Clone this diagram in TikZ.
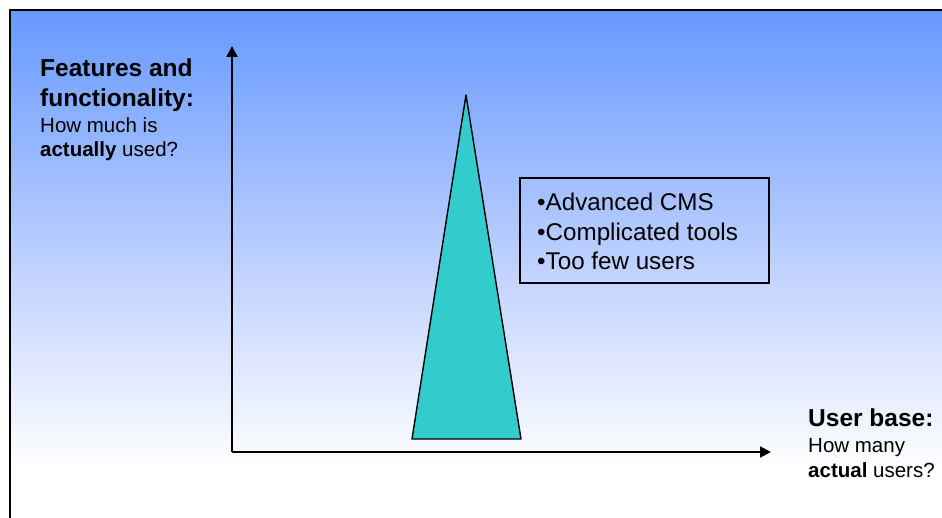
\documentclass[tikz,border=0pt]{standalone}
\usepackage{fontspec}
\setmainfont{Liberation Sans}
\usetikzlibrary{arrows.meta}
\definecolor{topblue}{RGB}{102,153,255}
\definecolor{midblue}{RGB}{196,212,255}
\definecolor{teal}{RGB}{51,204,204}
\tikzset{
  axis/.style={line width=2pt, -{Triangle[length=11pt,width=11pt]}},
  outline/.style={line width=1.4pt, line join=round},
  heading/.style={anchor=base west, inner sep=0pt, font=\bfseries\fontsize{24.5}{30}\selectfont, align=left},
  sub/.style={anchor=base west, inner sep=0pt, font=\fontsize{20.5}{24.5}\selectfont, align=left},
  listbox/.style={draw, line width=1.2pt, minimum width=249pt, minimum height=105pt, inner sep=0pt},
  listtext/.style={anchor=base west, inner sep=0pt, font=\fontsize{24.2}{29.7}\selectfont, align=left}
}
\begin{document}
\begin{tikzpicture}[x=1pt,y=-1pt]
\useasboundingbox (0,0) rectangle (942,518);
% background
\shade[top color=topblue, bottom color=midblue] (10,10) rectangle (942,280);
\shade[top color=midblue, bottom color=white] (10,279.5) rectangle (942,470);
\fill[white] (10,469.5) rectangle (942,518);
\draw[line width=2pt] (10,518) -- (10,10) -- (942,10);
% axes
\coordinate (O) at (232,452);
\coordinate (Ytip) at (232,46);
\coordinate (Xtip) at (771,452);
\draw[axis] (O) -- (Ytip);
\draw[axis] (O) -- (Xtip);
% triangle
\coordinate (apex) at (466,95);
\coordinate (bl) at (412,439);
\coordinate (br) at (521,439);
\draw[outline, fill=teal] (apex) -- (br) -- (bl) -- cycle;
% list box
\node[listbox] (box) at (644.5,230.5) {};
\node[listtext] (list) at (537,270) {•Advanced CMS\\•Complicated tools\\•Too few users};
% y label
\node[heading] (fh) at (40,107) {Features and\\functionality:};
\node[sub] (fs) at (40,157) {How much is\\\textbf{actually} used?};
% x label
\node[heading] (uh) at (808,426) {User base:};
\node[sub] (us) at (808,477) {How many\\\textbf{actual} users?};
\end{tikzpicture}
\end{document}
